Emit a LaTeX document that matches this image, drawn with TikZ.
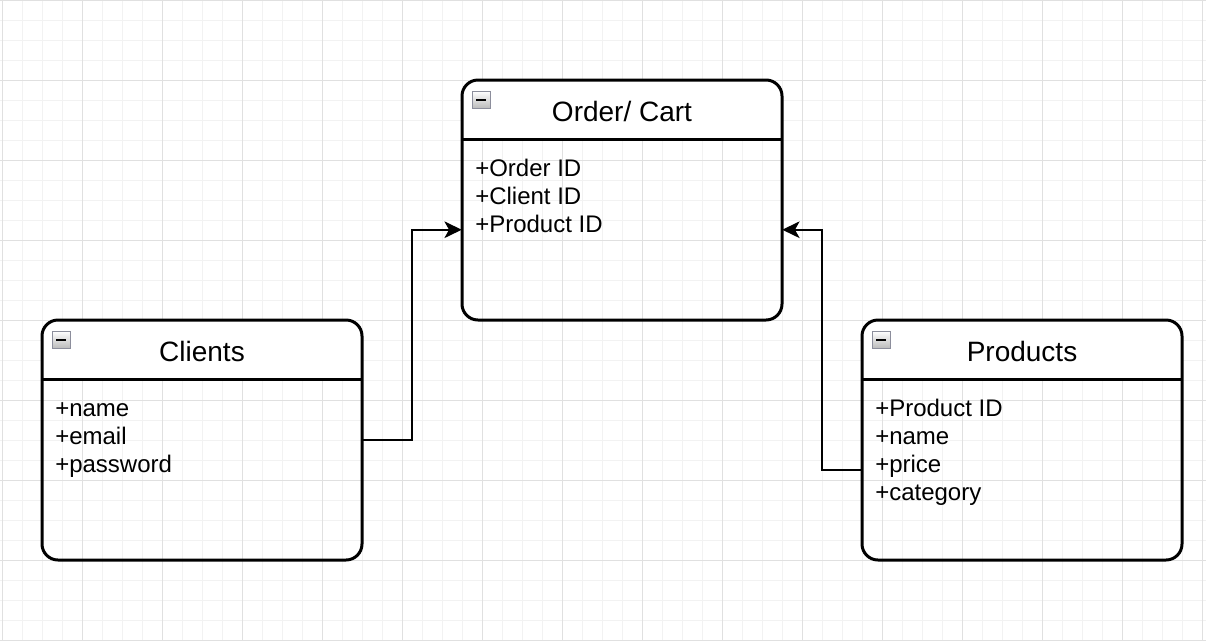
\documentclass[tikz,border=0pt]{standalone}
\usepackage{fontspec}
\setmainfont{Liberation Sans}
\usetikzlibrary{arrows.meta,calc}
\definecolor{gridminor}{HTML}{F2F2F2}
\definecolor{gridmajor}{HTML}{E0E0E0}
\definecolor{iconborder}{HTML}{8C8E9C}
\tikzset{
  umlbox/.style={draw=black, line width=2.25pt, rounded corners=12pt,
    minimum width=240pt, minimum height=180pt, inner sep=0pt, fill=none},
  hdrtext/.style={anchor=base, inner sep=0pt, font=\fontsize{21}{25}\selectfont},
  rowtext/.style={anchor=base west, inner sep=0pt, font=\fontsize{18}{21}\selectfont},
  conn/.style={draw=black, line width=1.5pt, -{Stealth[length=13pt,width=12.5pt,inset=3.5pt]}},
  hdrline/.style={draw=black, line width=2.25pt},
  iconbox/.style={draw=iconborder, line width=0.9pt, top color=white, bottom color=gray!55,
    minimum width=13.5pt, minimum height=13pt, inner sep=0pt, anchor=north west},
}
\newcommand{\umlheader}[1]{%
  \begin{scope}
    \clip ($(#1.north west)+(-5,-5)$) rectangle ($(#1.north east)+(5,60)$);
    \fill[white, rounded corners=12pt] (#1.north west) rectangle (#1.south east);
  \end{scope}}
\begin{document}
\begin{tikzpicture}[x=0.75pt, y=-0.75pt]
\useasboundingbox (0,0) rectangle (1206,640);
\fill[white] (0,0) rectangle (1206,640);
% grid
\foreach \x in {2,22,...,1206} \draw[gridminor, line width=0.75pt] (\x,0) -- (\x,640);
\foreach \y in {0,20,...,640} \draw[gridminor, line width=0.75pt] (0,\y) -- (1206,\y);
\foreach \x in {2,82,...,1206} \draw[gridmajor, line width=0.75pt] (\x,0) -- (\x,640);
\foreach \y in {0,80,...,640} \draw[gridmajor, line width=0.75pt] (0,\y) -- (1206,\y);

% boxes
\path (622,200) node[minimum width=240pt, minimum height=180pt, inner sep=0pt] (order) {};
\path (202,440) node[minimum width=240pt, minimum height=180pt, inner sep=0pt] (clients) {};
\path (1022,440) node[minimum width=240pt, minimum height=180pt, inner sep=0pt] (products) {};
\umlheader{order}
\umlheader{clients}
\umlheader{products}
\node[umlbox] at (order) {};
\node[umlbox] at (clients) {};
\node[umlbox] at (products) {};
\draw[hdrline] ($(order.north west)+(0,60)$) -- ($(order.north east)+(0,60)$);
\draw[hdrline] ($(clients.north west)+(0,60)$) -- ($(clients.north east)+(0,60)$);
\draw[hdrline] ($(products.north west)+(0,60)$) -- ($(products.north east)+(0,60)$);

% collapse icons
\node[iconbox] (ordericon) at ($(order.north west)+(10,11)$) {};
\node[iconbox] (clientsicon) at ($(clients.north west)+(10,11)$) {};
\node[iconbox] (productsicon) at ($(products.north west)+(10,11)$) {};
\foreach \ic in {ordericon,clientsicon,productsicon}
  \draw[black, line width=1.3pt] ($(\ic.center)+(-5,0)$) -- ($(\ic.center)+(5,0)$);

% headers
\node[hdrtext] (ordertitle) at (622,121) {Order/ Cart};
\node[hdrtext] (clientstitle) at (202,361) {Clients};
\node[hdrtext] (productstitle) at (1022,361) {Products};

% rows
\node[rowtext] (o1) at (475,176) {+Order ID};
\node[rowtext] (o2) at (475,204) {+Client ID};
\node[rowtext] (o3) at (475,232) {+Product ID};

\node[rowtext] (c1) at (55,416) {+name};
\node[rowtext] (c2) at (55,444) {+email};
\node[rowtext] (c3) at (55,472) {+password};

\node[rowtext] (p1) at (875,416) {+Product ID};
\node[rowtext] (p2) at (875,444) {+name};
\node[rowtext] (p3) at (875,472) {+price};
\node[rowtext] (p4) at (875,500) {+category};

% connectors
\coordinate (orderinL) at ($(order.north west)+(0,150)$);
\coordinate (orderinR) at ($(order.north east)+(0,150)$);
\coordinate (prodout) at ($(products.north west)+(0,150)$);
\draw[conn] (clients.east) -| ($(clients.east)!0.5!(orderinL)$) |- (orderinL);
\draw[conn] (prodout) -| ($(prodout)!0.5!(orderinR)$) |- (orderinR);
\end{tikzpicture}
\end{document}
